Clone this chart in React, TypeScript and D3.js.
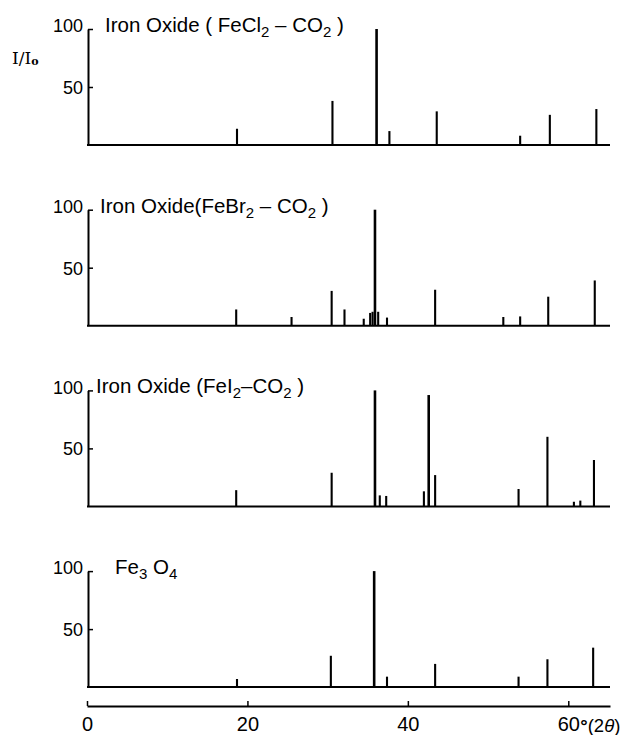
import React, { useRef, useEffect } from 'react';
import * as d3 from 'd3';

// 2θ positions (deg) and relative intensities I/Io
const feCl2Peaks = [
    [18.7, 14], [30.6, 38], [36.1, 100], [37.7, 12], [43.6, 29],
    [54.0, 8], [57.7, 26], [63.5, 31]
];
const feBr2Peaks = [
    [18.6, 14], [25.5, 7.5], [30.5, 30], [32.1, 14], [34.5, 6], [35.3, 11],
    [35.6, 12], [35.9, 100], [36.3, 12], [37.4, 7], [43.4, 31], [51.9, 7.5],
    [54.0, 8], [57.5, 25], [63.3, 39]
];
const feI2Peaks = [
    [18.6, 14], [30.5, 29], [35.9, 100], [36.5, 9.5], [37.3, 9], [42.0, 13],
    [42.6, 96], [43.4, 27], [53.8, 15], [57.4, 60], [60.7, 4], [61.5, 5], [63.2, 40]
];
const fe3o4Peaks = [
    [18.7, 7], [30.4, 27], [35.8, 100], [37.4, 9], [43.4, 20],
    [53.8, 9], [57.4, 24], [63.1, 34]
];

const angleTicks = [0, 20, 40, 60];
const intensityTicks = [50, 100];

// title pieces: [text, isSubscript]
const titles = [
    [["Iron Oxide ( FeCl", false], ["2", true], [" – CO", false], ["2", true], [" )", false]],
    [["Iron Oxide(FeBr", false], ["2", true], [" – CO", false], ["2", true], [" )", false]],
    [["Iron Oxide (FeI", false], ["2", true], ["–CO", false], ["2", true], [" )", false]],
    [["Fe", false], ["3", true], [" O", false], ["4", true]]
];
const titleX = [105, 100, 96, 115];

const allPeaks = [feCl2Peaks, feBr2Peaks, feI2Peaks, fe3o4Peaks];

const FONT = '"Liberation Sans", Arial, sans-serif';

const App = () => {
    const svgRef = useRef(null);

    useEffect(() => {
        const width = 625;
        const height = 735;
        const firstTop = 29;
        const panelStep = 180.7;
        const panelHeight = 116;

        const svg = d3.select(svgRef.current);
        svg.selectAll("*").remove();
        svg.attr("width", width).attr("height", height);

        svg.append("rect").attr("width", width).attr("height", height).attr("fill", "#fff");

        const x = d3.scaleLinear().domain([0, 65.2]).range([87, 610]);
        const axisX = x(0) + 1;

        allPeaks.forEach((peaks, i) => {
            const top = firstTop + i * panelStep;
            const y = d3.scaleLinear().domain([0, 100]).range([top + panelHeight, top]);

            const g = svg.append("g");

            // left axis with inward ticks
            const yAxis = g.append("g")
                .attr("transform", `translate(${axisX},0)`)
                .call(d3.axisLeft(y).tickValues(intensityTicks).tickSize(-5).tickSizeOuter(0).tickPadding(5));
            yAxis.select(".domain").attr("stroke", "#000").attr("stroke-width", 2);
            yAxis.selectAll(".tick line").attr("stroke", "#000").attr("stroke-width", 1.5);
            yAxis.selectAll(".tick text")
                .attr("fill", "#000")
                .style("font-family", FONT)
                .style("font-size", "18px")
                .attr("dy", d => (d === 100 ? "0.15em" : "0.36em"));

            // baseline
            g.append("line")
                .attr("x1", x(0)).attr("x2", x(65.2))
                .attr("y1", y(0)).attr("y2", y(0))
                .attr("stroke", "#000").attr("stroke-width", 2);

            // peaks
            g.selectAll(".peak")
                .data(peaks)
                .join("line")
                .attr("class", "peak")
                .attr("x1", d => x(d[0])).attr("x2", d => x(d[0]))
                .attr("y1", y(0)).attr("y2", d => y(d[1]))
                .attr("stroke", "#000")
                .attr("stroke-width", d => (d[1] >= 90 ? 2.6 : 2.1));

            // title, subscripts dropped by 5px
            const t = g.append("text")
                .attr("x", titleX[i])
                .attr("y", top + 3)
                .style("font-family", FONT)
                .style("font-size", "20.5px")
                .attr("fill", "#000");
            let shift = 0;
            titles[i].forEach(([txt, sub]) => {
                const target = sub ? 5 : 0;
                t.append("tspan")
                    .attr("dy", target - shift)
                    .style("font-size", sub ? "15px" : null)
                    .text(txt);
                shift = target;
            });
        });

        // I/Io label
        const lab = svg.append("text")
            .attr("x", 12).attr("y", 64)
            .style("font-family", '"DejaVu Serif", serif')
            .style("font-size", "17px")
            .attr("fill", "#000")
            .text("I/I");
        lab.append("tspan").attr("dy", 1).style("font-size", "11px").style("font-weight", "bold").text("o");

        // bottom 2θ axis
        const axisY = 706;
        const xAxis = svg.append("g")
            .attr("transform", `translate(0,${axisY})`)
            .call(d3.axisBottom(x).tickValues(angleTicks).tickSize(-5).tickSizeOuter(0).tickPadding(11));
        xAxis.select(".domain").attr("stroke", "#000").attr("stroke-width", 2);
        xAxis.selectAll(".tick line").attr("stroke", "#000").attr("stroke-width", 1.5);
        xAxis.selectAll(".tick text")
            .attr("fill", "#000")
            .style("font-family", FONT)
            .style("font-size", "20px");

        const unit = svg.append("text")
            .attr("x", x(60) + 12)
            .attr("y", axisY + 26)
            .style("font-family", FONT)
            .style("font-size", "18.5px")
            .attr("fill", "#000");
        unit.append("tspan").style("font-weight", "bold").text("°");
        unit.append("tspan").text("(2");
        unit.append("tspan").style("font-style", "italic").text("θ");
        unit.append("tspan").text(")");
    }, []);

    return (
        <svg ref={svgRef} style={{ position: 'absolute', left: 0, top: 0 }}></svg>
    );
};

export default App;
